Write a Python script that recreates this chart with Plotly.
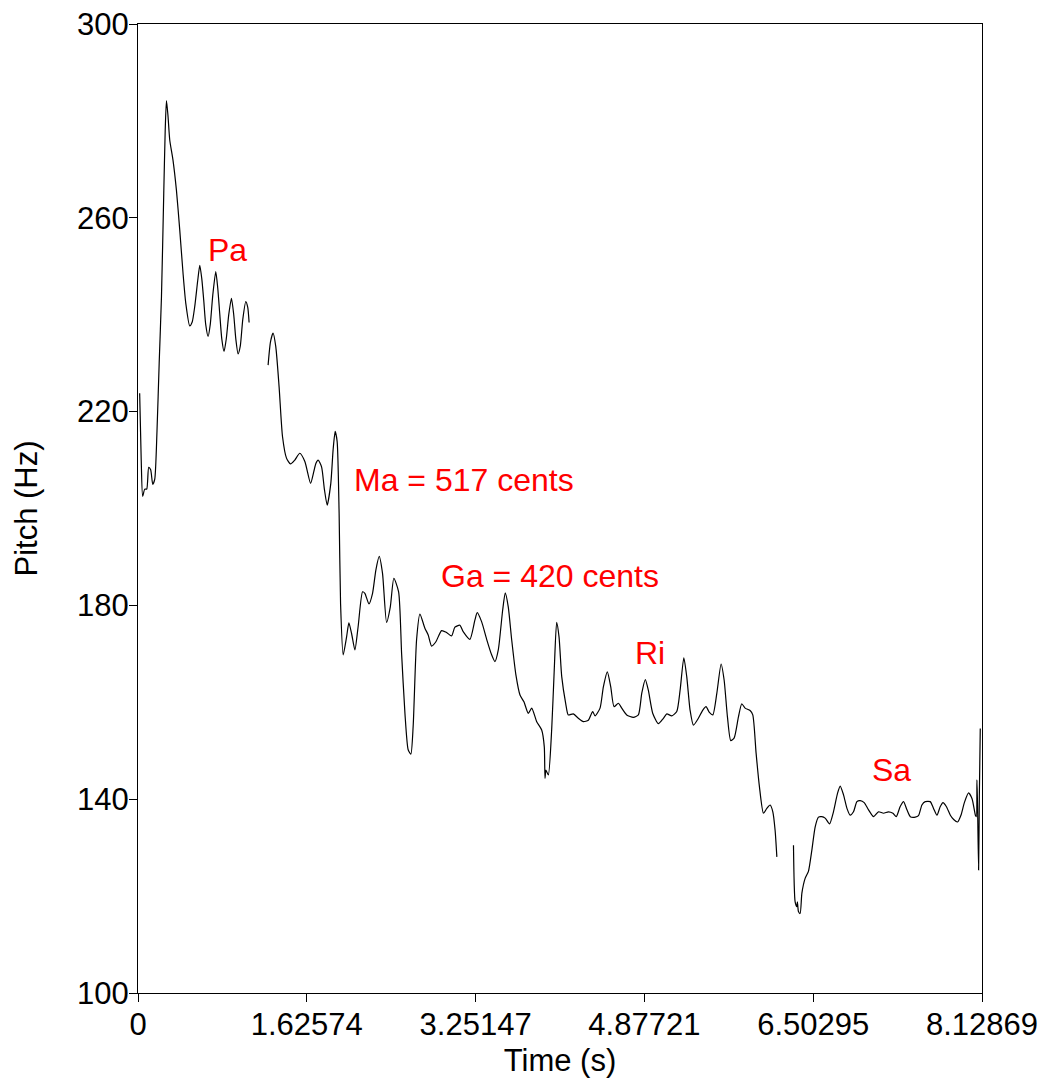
import plotly.graph_objects as go

# Segment 1 (Pa region)
t1 = [0.016, 0.031, 0.045, 0.065, 0.084, 0.103, 0.122, 0.142, 0.161, 0.183, 0.204, 0.226, 0.248, 0.262,
      0.274, 0.289, 0.306, 0.337, 0.370, 0.402, 0.434, 0.460, 0.498, 0.522, 0.546, 0.575, 0.595, 0.614,
      0.633, 0.652, 0.675, 0.696, 0.720, 0.749, 0.768, 0.787, 0.807, 0.829, 0.850, 0.874, 0.900, 0.922,
      0.942, 0.964, 0.985, 1.009, 1.038, 1.057, 1.070]
f1 = [223.8, 210, 202.5, 204, 204, 208.5, 208, 205, 206, 216, 230, 243.7, 265, 278,
      284.2, 281, 276, 271.9, 265.7, 257.5, 248.5, 242.4, 237.7, 238.5, 241.6, 247, 250.2, 247.5,
      243, 238, 235.5, 238, 244, 248.9, 245.5, 240.3, 235, 232.4, 235, 240, 243.4, 240,
      235, 231.9, 233.5, 239, 242.7, 241.5, 238.4]

# Segment 2 (Ma, Ga, Ri regions)
t2 = [1.253, 1.276, 1.301, 1.327, 1.359, 1.392, 1.430, 1.469, 1.510, 1.558, 1.607, 1.662, 1.693, 1.713,
      1.735, 1.768, 1.795, 1.822, 1.857, 1.879, 1.899, 1.918, 1.937, 1.951, 1.976, 2.009, 2.031, 2.057,
      2.089, 2.120, 2.163, 2.185, 2.224, 2.259, 2.291, 2.323, 2.355, 2.394, 2.430, 2.464, 2.510, 2.539,
      2.571, 2.602, 2.628, 2.650, 2.683, 2.715, 2.763, 2.795, 2.828, 2.869, 2.924, 2.972, 3.020, 3.052,
      3.100, 3.132, 3.197, 3.245, 3.267, 3.310, 3.358, 3.406, 3.438, 3.470, 3.512, 3.537, 3.566, 3.599,
      3.640, 3.679, 3.717, 3.759, 3.792, 3.840, 3.888, 3.913, 3.920, 3.929, 3.952, 3.984, 4.009, 4.032,
      4.055, 4.081, 4.119, 4.144, 4.192, 4.241, 4.289, 4.337, 4.379, 4.402, 4.450, 4.482, 4.520, 4.553,
      4.585, 4.626, 4.659, 4.707, 4.771, 4.819, 4.852, 4.886, 4.915, 4.958, 5.012, 5.060, 5.093, 5.141,
      5.189, 5.221, 5.257, 5.285, 5.317, 5.349, 5.397, 5.440, 5.471, 5.503, 5.536, 5.575, 5.616, 5.645,
      5.677, 5.709, 5.741, 5.783, 5.815, 5.847, 5.895, 5.921, 5.953, 5.985, 6.024, 6.056, 6.088, 6.114,
      6.136, 6.153]
f2 = [229.6, 234.4, 236.2, 233.4, 225.1, 214.8, 210.4, 209.2, 210, 211.4, 209.7, 205.2, 207.6, 209.3,
      210, 208.6, 204, 200.7, 205.2, 212.1, 215.9, 213.8, 199, 180.4, 169.8, 173.5, 176.4, 174.2,
      170.8, 175.6, 182.8, 182.5, 180.3, 182.5, 187.3, 190.1, 186.6, 176.5, 179.7, 185.6, 182.8, 170,
      157.7, 150.2, 149.3, 155, 172.9, 178.2, 175.3, 173.9, 171.6, 172.5, 174.8, 174.4, 173.7, 175.5,
      175.9, 174.6, 173, 177, 178.5, 176.6, 173, 169.8, 168.4, 170.8, 179, 182.6, 179.7, 172.9,
      165.6, 161.5, 160.1, 157.7, 158.8, 156, 154.3, 150.8, 144.3, 146, 145, 154.3, 166.7, 176.5,
      173.5, 165.3, 159.8, 157.4, 157.6, 156.7, 156, 156.3, 158.1, 157.2, 158.8, 163.2, 166.3, 163.2,
      159.1, 159.8, 158.8, 157.4, 156.9, 157.4, 161.9, 164.7, 162.5, 157.7, 155.6, 156.7, 157.6, 157.2,
      158.1, 162.5, 169.2, 165.3, 158.4, 155.3, 156.7, 158.4, 159.1, 157.9, 157.4, 161.9, 167.9, 164.6,
      157, 152.1, 152.6, 157, 159.7, 158.8, 158.3, 157.4, 149.5, 142.6, 137.1, 138.1, 138.8, 137.4,
      133.6, 128.1]

# Segment 3 (Sa region)
t3 = [6.313, 6.329, 6.346, 6.351, 6.361, 6.377, 6.394, 6.426, 6.457, 6.490, 6.522, 6.554, 6.586, 6.618,
      6.660, 6.698, 6.737, 6.763, 6.795, 6.828, 6.859, 6.891, 6.924, 6.956, 6.994, 7.036, 7.084, 7.132,
      7.180, 7.228, 7.271, 7.303, 7.341, 7.373, 7.406, 7.438, 7.486, 7.517, 7.550, 7.582, 7.630, 7.662,
      7.695, 7.727, 7.753, 7.785, 7.824, 7.856, 7.893, 7.926, 7.959, 7.999, 8.033, 8.065, 8.074, 8.080,
      8.086, 8.096, 8.103, 8.112]
f3 = [130.5, 118.8, 117.8, 118.8, 116.8, 116.4, 120.6, 123.7, 125.1, 129.5, 134.3, 136.3, 136.4, 136.1,
      134.9, 137.4, 141.2, 142.7, 140.9, 138.1, 136.7, 137.4, 139.5, 139.7, 139.3, 137.8, 136.4, 137.4,
      137.1, 137.4, 137.1, 136.4, 138.5, 139.5, 137.8, 136.4, 136.3, 136.6, 138.8, 139.5, 139.5, 138.1,
      136.7, 138.5, 139.3, 138.5, 136.7, 135.8, 135.3, 136.7, 139.3, 141.3, 140.1, 136.7, 136.4, 144,
      138.5, 125.4, 140.5, 154.6]

# Annotations
labels = ["Pa", "Ma = 517 cents", "Ga = 420 cents", "Ri", "Sa"]
label_t = [0.865, 3.139, 3.968, 4.930, 7.254]
label_f = [253.4, 205.9, 186.1, 170.2, 146.0]

x_ticks = [0, 1.62574, 3.25147, 4.87721, 6.50295, 8.12869]
y_ticks = [100, 140, 180, 220, 260, 300]

FONT = "Liberation Sans, Arial, sans-serif"

fig = go.Figure()
for tx, fy in ((t1, f1), (t2, f2), (t3, f3)):
    fig.add_trace(go.Scatter(x=tx, y=fy, mode="lines",
                             line=dict(color="black", width=1.2, shape="spline", smoothing=0.6),
                             showlegend=False, hoverinfo="skip"))

for txt, tx, fy in zip(labels, label_t, label_f):
    fig.add_annotation(x=tx, y=fy, text=txt, showarrow=False,
                       font=dict(color="red", size=32, family=FONT),
                       xanchor="center", yanchor="middle")

fig.update_layout(
    width=1042, height=1078,
    margin=dict(l=138, r=60, t=24, b=85),
    paper_bgcolor="white", plot_bgcolor="white",
    font=dict(family=FONT, size=31, color="black"),
    xaxis=dict(range=[0, 8.12869], tickvals=x_ticks,
               ticktext=["0", "1.62574", "3.25147", "4.87721", "6.50295", "8.12869"],
               showgrid=False, zeroline=False, showline=True, mirror=True,
               linecolor="black", linewidth=1, ticks="outside", ticklen=8,
               tickcolor="black", tickfont=dict(size=31), automargin=False,
               ticklabelstandoff=-4,
               title=dict(text="Time (s)", font=dict(size=31), standoff=8)),
    yaxis=dict(range=[100, 300], tickvals=y_ticks,
               showgrid=False, zeroline=False, showline=True, mirror=True,
               linecolor="black", linewidth=1, ticks="outside", ticklen=8,
               tickcolor="black", tickfont=dict(size=31), automargin=False,
               ticklabelstandoff=-6,
               title=dict(text="Pitch (Hz)", font=dict(size=31), standoff=30)),
)

fig.write_html("out.html")
